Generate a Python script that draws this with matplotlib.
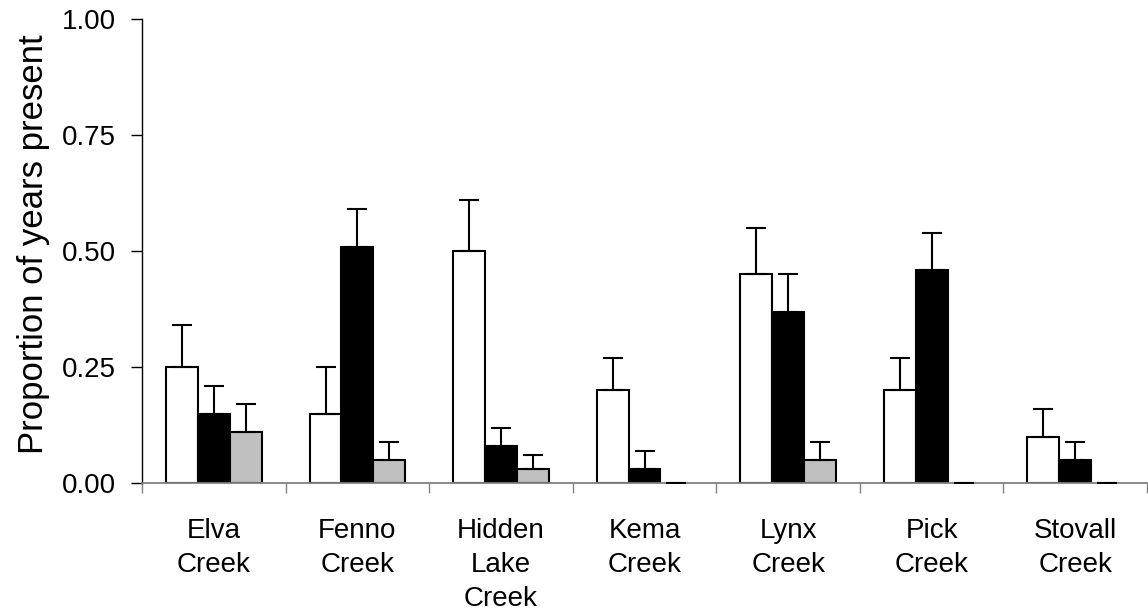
import numpy as np
import matplotlib
matplotlib.use("Agg")
import matplotlib.pyplot as plt

plt.rcParams['font.family'] = ['Liberation Sans', 'DejaVu Sans']

creeks = ["Elva\nCreek", "Fenno\nCreek", "Hidden\nLake\nCreek", "Kema\nCreek",
          "Lynx\nCreek", "Pick\nCreek", "Stovall\nCreek"]

white_vals = [0.25, 0.15, 0.50, 0.20, 0.45, 0.20, 0.10]
white_err = [0.09, 0.10, 0.11, 0.07, 0.10, 0.07, 0.06]
black_vals = [0.15, 0.51, 0.08, 0.03, 0.37, 0.46, 0.05]
black_err = [0.06, 0.08, 0.04, 0.04, 0.08, 0.08, 0.04]
gray_vals = [0.11, 0.05, 0.03, 0.00, 0.05, 0.00, 0.00]
gray_err = [0.06, 0.04, 0.03, 0.00, 0.04, 0.00, 0.00]

y_ticks = [0.00, 0.25, 0.50, 0.75, 1.00]

fig = plt.figure(figsize=(11.48, 6.15), dpi=100)
ax = fig.add_axes([0.1237, 0.2141, 0.8755, 0.755])

x = np.arange(len(creeks))
w = 0.222
series = [
    (white_vals, white_err, "white", -w),
    (black_vals, black_err, "black", 0.0),
    (gray_vals, gray_err, "#c0c0c0", w),
]
for vals, errs, color, off in series:
    lws = [1.5 if v > 0 else 0 for v in vals]
    ax.bar(x + off, vals, width=w, color=color, edgecolor="black",
           linewidth=lws, zorder=2)
    ax.errorbar(x + off, vals, yerr=[np.zeros(len(vals)), errs], fmt="none",
                ecolor="black", elinewidth=1.5, capsize=7, capthick=1.5, zorder=3)

ax.set_xlim(-0.5, len(creeks) - 0.5)
ax.set_ylim(0, 1.0)
ax.set_yticks(y_ticks)
ax.set_yticklabels([f"{t:.2f}" for t in y_ticks], fontsize=20)
ax.set_xticks(x)
ax.set_xticklabels(creeks, fontsize=20, linespacing=1.4)
ax.tick_params(axis="x", length=0, pad=25)
ax.set_xticks(np.arange(-0.5, len(creeks), 1.0), minor=True)
ax.tick_params(axis="x", which="minor", length=7, width=1, color="#808080",
               direction="out")
ax.tick_params(axis="y", length=8, width=1, direction="out", pad=11)

for s in ["top", "right"]:
    ax.spines[s].set_visible(False)
ax.spines["bottom"].set_color("#808080")
ax.spines["bottom"].set_linewidth(1.3)
ax.spines["left"].set_linewidth(1.0)

ax.set_ylabel("Proportion of years present", fontsize=25)
ax.yaxis.set_label_coords(-0.092, 0.515)

fig.savefig("out.png", dpi=100)
